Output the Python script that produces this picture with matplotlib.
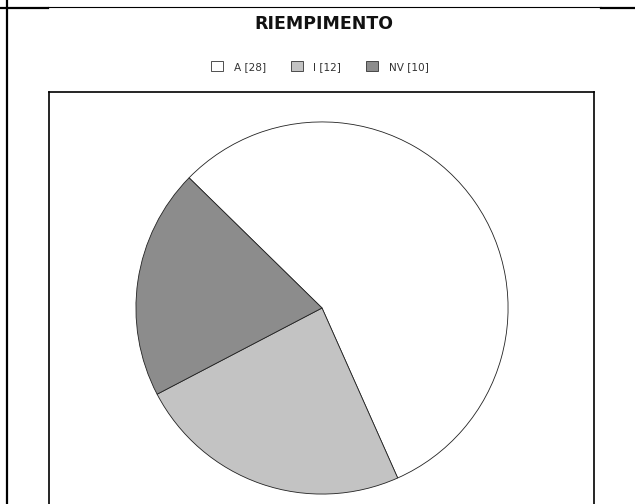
import matplotlib
matplotlib.use("Agg")
import matplotlib.pyplot as plt
from matplotlib.lines import Line2D
from matplotlib.patches import Patch

labels = ["A", "I", "NV"]
counts = [28, 12, 10]
colors = ["#ffffff", "#c3c3c3", "#8c8c8c"]
title = "RIEMPIMENTO"

W, H = 635, 504
fig = plt.figure(figsize=(W / 100, H / 100), dpi=100)


def fx(px):
    return px / W


def fy(py):
    return 1 - py / H


# page frame: left rule and top rule
fig.add_artist(Line2D([fx(6.5), fx(6.5)], [0, 1], color="black", lw=1.6))
fig.add_artist(Line2D([0, fx(48)], [fy(7.5), fy(7.5)], color="black", lw=1.6))
fig.add_artist(Line2D([fx(48), fx(601)], [fy(7), fy(7)], color="black", lw=0.8))
fig.add_artist(Line2D([fx(601), 1], [fy(7.5), fy(7.5)], color="black", lw=1.6))

# plot frame (runs past the bottom of the page)
box = fig.add_axes([fx(49), -0.1, fx(594) - fx(49), fy(92) + 0.1])
box.set_xticks([])
box.set_yticks([])
for s in box.spines.values():
    s.set_linewidth(1.2)
    s.set_color("black")

# pie
cx, cy, r = 322, 308, 187
ax = fig.add_axes([fx(cx - r), fy(cy + r), 2 * r / W, 2 * r / H])
ax.pie(counts, colors=colors, startangle=135.6, counterclock=False,
       wedgeprops=dict(edgecolor="#222222", linewidth=0.6))
ax.set_xlim(-1.005, 1.005)
ax.set_ylim(-1.005, 1.005)
ax.set_aspect("auto")
ax.axis("off")

fig.text(fx(324), fy(24), title, ha="center", va="center",
         fontsize=12.5, fontweight="bold", color="#111111")

handles = [Patch(facecolor=c, edgecolor="#333333", linewidth=0.6) for c in colors]
leg_labels = [f"{l} [{v}]" for l, v in zip(labels, counts)]
fig.legend(handles, leg_labels, loc="center", bbox_to_anchor=(fx(320), fy(66.5)),
           ncol=3, frameon=False, fontsize=7.6, handlelength=1.1, handleheight=1.1,
           handletextpad=1.0, columnspacing=2.4, labelcolor="#333333")

fig.savefig("out.png", dpi=100)
